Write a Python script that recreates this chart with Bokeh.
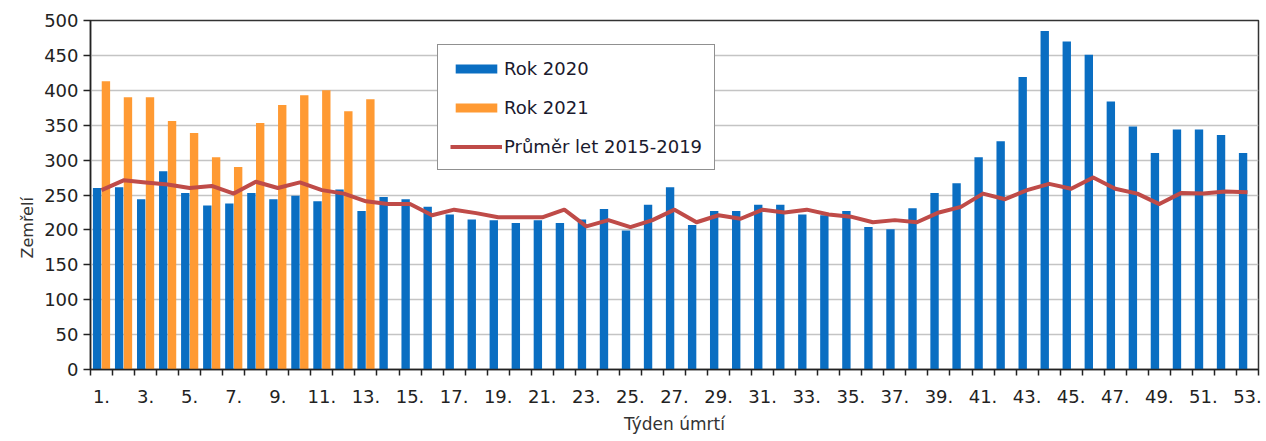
import math
from bokeh.plotting import figure
from bokeh.models import (ColumnDataSource, Range1d, FixedTicker, Legend, LegendItem, Title)
from bokeh.embed import file_html
from bokeh.resources import INLINE

weeks = list(range(1, 54))
rok2020 = [260, 261, 244, 284, 253, 235, 238, 253, 244, 249, 241, 258, 227, 247, 244,
           233, 222, 215, 214, 210, 214, 210, 215, 230, 199, 236, 261, 207, 227, 227,
           236, 236, 222, 221, 227, 204, 201, 231, 253, 267, 304, 327, 419, 485, 470,
           451, 384, 348, 310, 344, 344, 336, 310]
weeks2021 = list(range(1, 14))
rok2021 = [413, 390, 390, 356, 339, 304, 290, 353, 379, 393, 400, 370, 387]
prumer = [257, 271, 268, 265, 260, 263, 252, 269, 260, 268, 257, 252, 241, 237, 237,
          221, 229, 224, 218, 218, 218, 229, 205, 214, 204, 214, 229, 211, 221, 216,
          229, 225, 229, 222, 219, 211, 214, 211, 225, 233, 252, 244, 257, 266, 259,
          275, 259, 252, 237, 253, 252, 255, 254]
y_ticks = list(range(0, 501, 50))
x_label_weeks = list(range(1, 54, 2))
x_labels = {w: f"{w}." for w in x_label_weeks}

BLUE = "#0A6EC2"
ORANGE = "#FF9A33"
RED = "#BF4B48"
FONT = "DejaVu Sans"

p = figure(frame_width=1168, frame_height=349, output_backend="svg", toolbar_location=None,
           x_range=Range1d(0.5, 53.5), y_range=Range1d(0, 500),
           min_border_left=90, min_border_right=8, min_border_top=20, min_border_bottom=10)

src20 = ColumnDataSource(dict(x=[w - 0.2 for w in weeks], top=rok2020))
src21 = ColumnDataSource(dict(x=[w + 0.2 for w in weeks2021], top=rok2021))
srcavg = ColumnDataSource(dict(x=weeks, y=prumer))

r20 = p.vbar(x="x", top="top", bottom=0, width=0.38, source=src20, fill_color=BLUE, line_color=None)
r21 = p.vbar(x="x", top="top", bottom=0, width=0.38, source=src21, fill_color=ORANGE, line_color=None)
ravg = p.line(x="x", y="y", source=srcavg, line_color=RED, line_width=4, line_join="round")

p.xgrid.grid_line_color = None
p.ygrid.ticker = FixedTicker(ticks=y_ticks)
p.ygrid.grid_line_color = "#C4C4C4"
p.ygrid.grid_line_width = 1.5

p.outline_line_color = "#333333"
p.outline_line_width = 1.5

# y axis
p.yaxis.ticker = FixedTicker(ticks=y_ticks)
p.yaxis.major_label_text_font = FONT
p.yaxis.major_label_text_font_size = "18px"
p.yaxis.major_label_text_color = "#222222"
p.yaxis.major_tick_out = 7
p.yaxis.major_tick_in = 0
p.yaxis.minor_tick_line_color = None
p.yaxis.axis_line_color = "#222222"
p.yaxis.axis_line_width = 1.5
p.yaxis.major_tick_line_color = "#222222"
p.yaxis.major_tick_line_width = 1.5
p.yaxis.major_label_standoff = 5

# x axis
p.xaxis.ticker = FixedTicker(ticks=x_label_weeks, minor_ticks=[w - 0.5 for w in weeks] + [53.5])
p.xaxis.major_label_overrides = x_labels
p.xaxis.major_label_text_font = FONT
p.xaxis.major_label_text_font_size = "18px"
p.xaxis.major_label_text_color = "#222222"
p.xaxis.major_tick_line_color = None
p.xaxis.major_tick_out = 0
p.xaxis.major_tick_in = 0
p.xaxis.minor_tick_out = 6
p.xaxis.minor_tick_in = 0
p.xaxis.minor_tick_line_color = "#222222"
p.xaxis.minor_tick_line_width = 1.5
p.xaxis.axis_line_color = "#222222"
p.xaxis.axis_line_width = 1.5
p.xaxis.major_label_standoff = 14
p.xaxis.axis_label = "Týden úmrtí"
p.xaxis.axis_label_text_font = FONT
p.xaxis.axis_label_text_font_size = "17px"
p.xaxis.axis_label_text_font_style = "normal"
p.xaxis.axis_label_text_color = "#333333"
p.xaxis.axis_label_standoff = 8

ytitle = Title(text="Zemřelí", align="left", offset=111, standoff=9,
               text_font=FONT, text_font_size="16px", text_font_style="normal",
               text_color="#333333")
p.add_layout(ytitle, "left")

legend = Legend(items=[LegendItem(label="Rok 2020", renderers=[r20]),
                       LegendItem(label="Rok 2021", renderers=[r21]),
                       LegendItem(label="Průměr let 2015-2019", renderers=[ravg])],
                location=(347, 199), orientation="vertical")
legend.glyph_width = 52
legend.glyph_height = 11
legend.label_height = 22
legend.label_standoff = 2
legend.spacing = 17
legend.padding = 12
legend.margin = 0
legend.label_text_font = FONT
legend.label_text_font_size = "18px"
legend.label_text_color = "#1a1a2e"
legend.border_line_color = "#222222"
legend.border_line_width = 1.5
legend.background_fill_alpha = 1
p.add_layout(legend, "center")

open("out.html", "w").write(file_html(p, INLINE))
